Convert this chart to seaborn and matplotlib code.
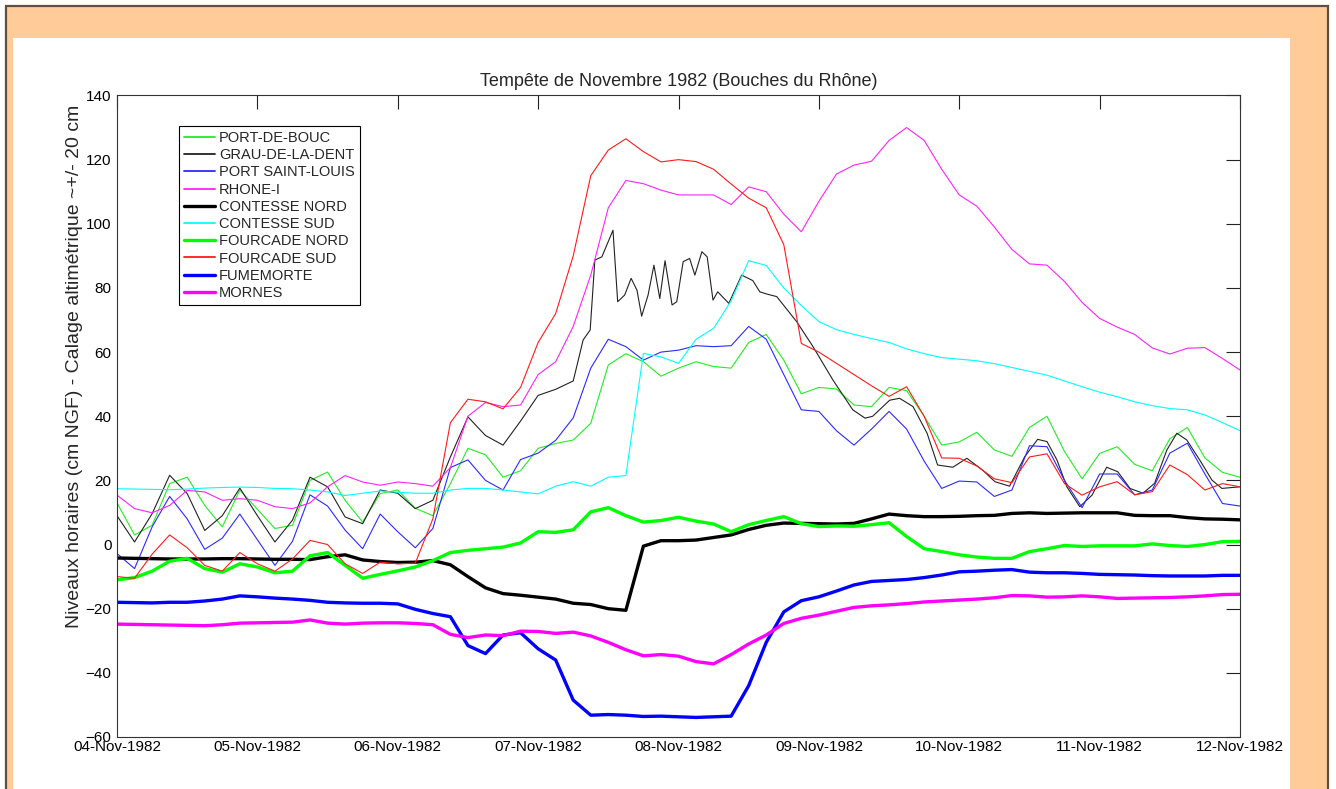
import matplotlib
matplotlib.use("Agg")
import matplotlib.pyplot as plt
import matplotlib.dates as mdates
from matplotlib.patches import Rectangle
import pandas as pd
import seaborn as sns

# ----------------------------------------------------------------------------
# Data (hourly sea levels, cm NGF)
# ----------------------------------------------------------------------------
START = pd.Timestamp("1982-11-04")
END = pd.Timestamp("1982-11-12")

# common 3-hour sampling grid (hours since 04-Nov-1982 00:00)
HOURS = list(range(0, 193, 3))

PORT_DE_BOUC = [13, 3, 6, 19, 21, 12.2, 5.5, 17, 11, 5,
                6, 20, 22.6, 13.8, 7, 15.9, 17, 11.3, 9, 19,
                30, 28, 21, 23, 30, 31.5, 32.6, 37.8, 56, 59.5,
                57, 52.5, 55, 57, 55.5, 55, 63, 65.5, 57.5, 47,
                49, 48.5, 43.5, 43, 49, 48, 40, 31, 32, 35,
                29.5, 27.5, 36.5, 40, 29, 20.5, 28.4, 30.5, 25, 23,
                33, 36.5, 27, 22.5, 21]

# Grau-de-la-Dent is spiky during the storm, so it has its own time stamps
GRAU_HOURS = list(range(0, 79, 3)) + [
    79.7, 80.9, 81.7, 82.9, 84.8, 85.6, 86.8, 87.9, 88.9, 89.7,
    90.8, 91.8, 92.8, 93.7, 94.9, 95.7, 96.8, 97.9, 98.8, 100,
    100.9, 101.9, 102.7, 104.6, 106.8, 108.7, 109.9, 111.1, 112.8, 116.2,
    119, 122.4, 125.8, 127.9, 129.2, 132.1, 133.8, 136.1, 138.5, 140.3,
    142.9, 145.3, 148, 150.1, 152.6, 155.2, 157.4, 159, 160.7, 162.4,
    164.6, 166.7, 169.2, 171.1, 173.2, 175.4, 177.4, 179.5, 181.2, 182.9,
    185.1, 187.2, 188.9, 192]
GRAU_DE_LA_DENT = [9, 0.8, 9.6, 21.6, 15.9, 4.4, 9, 17.6, 9, 0.8,
                   7.6, 21, 18, 8.6, 6.5, 17, 16, 11.2, 13.8, 27.3,
                   39.8, 34, 31, 38.5, 46.5, 48.4, 51,
                   63.8, 66.9, 88.7, 89.7, 98, 75.7, 77.8, 83, 79.3, 71.2,
                   77.8, 87.1, 76.7, 88.5, 74.7, 75.7, 88.2, 89.2, 84, 91.3,
                   89.7, 76.2, 78.8, 75.2, 84, 82.3, 78.8, 78.1, 77.3, 69.5,
                   61.7, 51.3, 42, 39.4, 40, 45, 45.6, 43, 34.7, 24.8,
                   24.1, 26.9, 23.2, 19.6, 18.2, 27.4, 32.8, 32.1, 26.4, 18,
                   11.8, 15.4, 24.1, 22.7, 17.5, 16, 19.1, 29.5, 34.7, 32.6,
                   26.4, 20.1, 17.5, 18]

PORT_SAINT_LOUIS = [-2.8, -7.5, 5.5, 15, 8, -1.5, 2, 9.5, 1.5, -6.5,
                    1, 15.5, 12, 4.5, -1.3, 9.5, 4, -1, 5, 24,
                    26.4, 20, 17, 26.5, 28.5, 32.5, 39.5, 55, 64, 61.7,
                    57.5, 60, 60.6, 62, 61.7, 62, 68, 64, 53, 42,
                    41.5, 35.5, 31, 36, 41.5, 36, 26, 17.5, 19.8, 19.5,
                    15, 17, 30.8, 30.5, 20, 11.5, 22, 22, 15.5, 17,
                    28.5, 31.6, 22, 12.8, 12]

RHONE_I = [15.4, 11.2, 9.9, 12.2, 16.9, 16.4, 13.8, 14.3, 13.8, 11.8,
           11.2, 13, 18, 21.5, 19.5, 18.5, 19.5, 19, 18.2, 24,
           40, 44.3, 43, 43.5, 53, 57, 68, 84, 105, 113.5,
           112.5, 110.5, 109, 109, 109, 106, 111.5, 110, 103, 97.5,
           107, 115.5, 118.3, 119.5, 126, 130, 126, 117, 109, 105.5,
           99, 92, 87.5, 87.1, 82, 75.5, 70.5, 67.8, 65.5, 61.3,
           59.4, 61.2, 61.4, 58, 54.4]

CONTESSE_NORD = [-4.2, -4.3, -4.4, -4.5, -4.5, -4.5, -4.4, -4.4, -4.5, -4.6,
                 -4.6, -4.7, -3.8, -3.2, -4.8, -5.3, -5.6, -5.5, -5, -6.3,
                 -10, -13.5, -15.3, -15.8, -16.4, -17, -18.3, -18.7, -20, -20.5,
                 -0.5, 1.2, 1.2, 1.4, 2.2, 3, 4.7, 6, 6.7, 6.6,
                 6.5, 6.4, 6.6, 8, 9.5, 9, 8.7, 8.7, 8.8, 9,
                 9.1, 9.7, 9.9, 9.7, 9.8, 9.9, 9.9, 9.9, 9.1, 9,
                 9, 8.4, 8, 7.9, 7.7]

CONTESSE_SUD = [17.4, 17.3, 17.2, 17.1, 17.3, 17.6, 17.8, 17.9, 17.8, 17.5,
                17.4, 17, 16.4, 15.3, 16, 16.7, 16.3, 16, 16, 17,
                17.5, 17.5, 17, 16.4, 15.8, 18.2, 19.6, 18.2, 21, 21.5,
                59.6, 58.5, 56.5, 64, 67.4, 76, 88.5, 87, 80, 74.5,
                69.5, 67, 65.5, 64.2, 63, 61, 59.5, 58.3, 57.8, 57.3,
                56.4, 55.2, 54, 52.8, 51, 49.2, 47.5, 46.1, 44.5, 43.3,
                42.4, 42, 40.4, 38, 35.5]

FOURCADE_NORD = [-11, -10.3, -8.3, -5.2, -4.3, -7.5, -8.6, -6, -7, -8.8,
                 -8.3, -3.5, -2.5, -6.5, -10.5, -9.3, -8.2, -7, -5, -2.5,
                 -1.8, -1.3, -0.8, 0.5, 4, 3.8, 4.6, 10.2, 11.5, 9,
                 7, 7.5, 8.5, 7.3, 6.4, 4, 6.2, 7.5, 8.7, 6.5,
                 5.6, 5.8, 5.7, 6.2, 6.8, 2.5, -1.3, -2.2, -3.2, -3.9,
                 -4.3, -4.3, -2.2, -1.3, -0.3, -0.6, -0.4, -0.4, -0.4, 0.2,
                 -0.3, -0.6, 0, 0.9, 1]

FOURCADE_SUD = [-10, -10.5, -3, 3, -1, -6.5, -8.3, -2.5, -6, -8.3,
                -4.5, 1.3, 0, -6, -9, -5.5, -6, -5.8, 8, 38,
                45.3, 44.5, 42.3, 49, 63, 72, 90, 115, 123, 126.5,
                122.5, 119.3, 120, 119.4, 117, 112.4, 108, 105, 93.5, 62.7,
                60, 56.5, 53, 49.5, 46.2, 49.2, 40, 27, 26.9, 24.5,
                20.5, 19.3, 27.3, 28.3, 19, 15.4, 18, 19.6, 15.5, 16.5,
                24.8, 21.8, 17, 19, 18]

FUMEMORTE = [-18, -18.1, -18.2, -18, -18, -17.6, -17, -16, -16.3, -16.7,
             -17, -17.4, -18, -18.2, -18.3, -18.3, -18.5, -20.2, -21.5, -22.5,
             -31.5, -34, -28.2, -27.5, -32.5, -36, -48.5, -53.2, -53, -53.2,
             -53.6, -53.5, -53.7, -53.9, -53.7, -53.5, -44, -30.5, -21, -17.5,
             -16.3, -14.5, -12.6, -11.5, -11.2, -10.9, -10.3, -9.5, -8.5, -8.3,
             -8, -7.8, -8.6, -8.8, -8.8, -9, -9.3, -9.4, -9.5, -9.7,
             -9.8, -9.8, -9.8, -9.6, -9.6]

MORNES = [-24.8, -24.9, -25, -25.1, -25.2, -25.3, -25, -24.5, -24.4, -24.3,
          -24.2, -23.5, -24.5, -24.8, -24.5, -24.4, -24.4, -24.6, -25, -28,
          -29, -28.2, -28.4, -27, -27.1, -27.7, -27.3, -28.5, -30.5, -32.8,
          -34.7, -34.3, -34.8, -36.5, -37.2, -34.3, -31, -28.2, -24.6, -23,
          -22, -20.8, -19.6, -19.1, -18.8, -18.4, -17.9, -17.6, -17.3, -17,
          -16.6, -15.9, -16, -16.4, -16.3, -16, -16.3, -16.8, -16.7, -16.6,
          -16.5, -16.3, -16, -15.6, -15.5]

THIN = 0.8
THICK = 2.4

# (legend label, hours, values, colour, width) -- legend order
SERIES = [
    ("PORT-DE-BOUC", HOURS, PORT_DE_BOUC, "#22ee22", THIN),
    ("GRAU-DE-LA-DENT", GRAU_HOURS, GRAU_DE_LA_DENT, "#222222", THIN),
    ("PORT SAINT-LOUIS", HOURS, PORT_SAINT_LOUIS, "#2a2aff", THIN),
    ("RHONE-I", HOURS, RHONE_I, "#ff22ff", THIN),
    ("CONTESSE NORD", HOURS, CONTESSE_NORD, "#000000", THICK),
    ("CONTESSE SUD", HOURS, CONTESSE_SUD, "#00ffff", THIN),
    ("FOURCADE NORD", HOURS, FOURCADE_NORD, "#00ff00", THICK),
    ("FOURCADE SUD", HOURS, FOURCADE_SUD, "#ff1a1a", THIN),
    ("FUMEMORTE", HOURS, FUMEMORTE, "#0000ff", THICK),
    ("MORNES", HOURS, MORNES, "#ff00ff", THICK),
]

TITLE = "Tempête de Novembre 1982 (Bouches du Rhône)"
YLABEL = "Niveaux horaires (cm NGF) - Calage altimétrique ~+/- 20 cm"

W, H = 1336, 789


def main() -> None:
    sns.set_style("white")
    plt.rcParams["font.family"] = ["Liberation Sans", "DejaVu Sans"]

    fig = plt.figure(figsize=(W / 100, H / 100), dpi=100, facecolor="white")

    # orange frame with dark outline, white panel inside (behind the axes)
    fig.patches.append(Rectangle((6 / W, -0.02), (1328 - 6) / W, (H - 6) / H + 0.02,
                                 transform=fig.transFigure, figure=fig,
                                 facecolor="#ffcc99", edgecolor="#5e5040",
                                 linewidth=1.6, zorder=-2))
    fig.patches.append(Rectangle((13 / W, -0.02), (1290 - 13) / W, (H - 38) / H + 0.02,
                                 transform=fig.transFigure, figure=fig,
                                 facecolor="white", edgecolor="none", zorder=-1))

    ax = fig.add_axes([117 / W, (H - 737) / H, (1240 - 117) / W, (737 - 95.5) / H])
    ax.set_facecolor("white")

    for label, hours, values, color, lw in SERIES:
        df = pd.DataFrame({
            "time": START + pd.to_timedelta(hours, unit="h"),
            "level": values,
        })
        sns.lineplot(data=df, x="time", y="level", ax=ax, color=color,
                     linewidth=lw, label=label, sort=False)

    ax.set_xlim(START, END)
    ax.set_ylim(-60, 140)
    ax.set_yticks(range(-60, 141, 20))
    ax.xaxis.set_major_locator(mdates.DayLocator())
    ax.xaxis.set_major_formatter(mdates.DateFormatter("%d-%b-%Y"))

    ax.tick_params(direction="in", length=10, width=0.8, top=True, right=True,
                   labelsize=11, colors="#222222", labelcolor="black")
    ax.tick_params(axis="x", pad=2)
    ax.tick_params(axis="y", pad=4)
    for sp in ax.spines.values():
        sp.set_visible(True)
        sp.set_color("#333333")
        sp.set_linewidth(0.8)

    ax.set_xlabel("")
    ax.set_ylabel(YLABEL, fontsize=14)
    ax.yaxis.set_label_coords(-0.0305, 0.578)
    ax.set_title(TITLE, fontsize=13, pad=7)

    leg = ax.legend(loc="upper left", bbox_to_anchor=(0.0552, 0.9525),
                    borderaxespad=0, fontsize=10.5, frameon=True, fancybox=False,
                    framealpha=1, edgecolor="black", handlelength=2.1,
                    handletextpad=0.3, labelspacing=0.22, borderpad=0.35)
    leg.get_frame().set_linewidth(0.8)
    # thin handles drawn a little wider so their colour stays readable
    for handle in leg.get_lines():
        if handle.get_linewidth() < 1.5:
            handle.set_linewidth(1.3)

    fig.savefig("out.png", dpi=100, facecolor=fig.get_facecolor())
    plt.close(fig)


if __name__ == "__main__":
    main()
